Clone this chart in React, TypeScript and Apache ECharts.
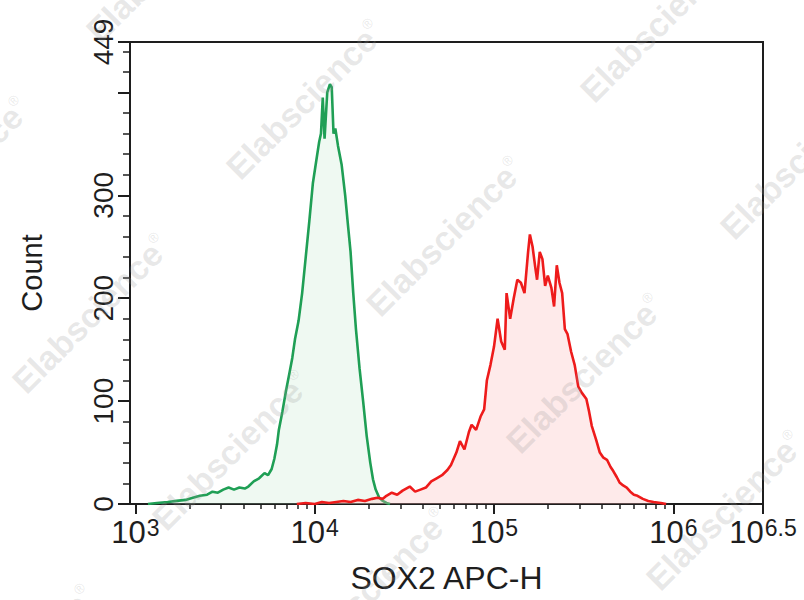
import React, { useEffect, useRef } from "react";
import * as echarts from "echarts";

// ---------- data (x = log10 fluorescence intensity, y = count) ----------
const GREEN_LOG = [
  3.07, 3.12, 3.18, 3.23, 3.28, 3.32, 3.36, 3.4, 3.43, 3.46, 3.49, 3.52, 3.55, 3.58, 3.61, 3.63,
  3.66, 3.69, 3.72, 3.74, 3.76, 3.775, 3.79, 3.8, 3.82, 3.84, 3.86, 3.875, 3.89, 3.91, 3.93, 3.95,
  3.97, 3.99, 4.01, 4.025, 4.035, 4.045, 4.055, 4.07, 4.085, 4.095, 4.105, 4.115, 4.13, 4.15, 4.17,
  4.185, 4.2, 4.215, 4.23, 4.25, 4.27, 4.29, 4.31, 4.325, 4.34, 4.36, 4.38, 4.4, 4.42,
];
const GREEN_COUNT = [
  0, 1, 2, 3, 4, 6, 8, 9, 12, 11, 14, 16, 14, 16, 15, 17,
  22, 25, 30, 28, 34, 44, 58, 72, 90, 110, 128, 142, 160, 178, 205, 240,
  275, 312, 335, 352, 360, 395, 355, 400, 408, 405, 360, 365, 348, 330, 300,
  272, 245, 205, 170, 132, 100, 66, 40, 24, 14, 6, 3, 1, 0,
];

const RED_LOG = [
  3.9, 3.95, 4.0, 4.04, 4.08, 4.12, 4.16, 4.2, 4.24, 4.28, 4.32, 4.35, 4.38, 4.4, 4.43, 4.46,
  4.49, 4.53, 4.56, 4.59, 4.62, 4.65, 4.68, 4.71, 4.74, 4.76, 4.79, 4.81, 4.835, 4.86, 4.875, 4.9,
  4.925, 4.945, 4.96, 4.98, 5.0, 5.02, 5.04, 5.06, 5.07, 5.09, 5.11, 5.13, 5.15, 5.17, 5.19, 5.2,
  5.215, 5.23, 5.24, 5.255, 5.27, 5.285, 5.3, 5.32, 5.335, 5.35, 5.365, 5.38, 5.395, 5.41, 5.43,
  5.45, 5.47, 5.49, 5.515, 5.53, 5.545, 5.57, 5.59, 5.61, 5.63, 5.65, 5.665, 5.685, 5.7, 5.72,
  5.74, 5.76, 5.78, 5.8, 5.83, 5.86, 5.89, 5.93, 5.96,
];
const RED_COUNT = [
  0, 1, 0, 2, 1, 2, 3, 2, 4, 3, 5, 6, 5, 8, 11, 9,
  13, 17, 12, 14, 16, 22, 25, 28, 33, 38, 50, 61, 53, 70, 77, 72,
  85, 92, 120, 135, 153, 180, 158, 150, 205, 180, 200, 218, 215, 205, 245, 262,
  250, 230, 218, 245, 238, 212, 222, 210, 192, 232, 215, 205, 170, 165, 148,
  135, 114, 108, 102, 90, 76, 62, 50, 45, 43, 36, 32, 26, 21, 18,
  16, 12, 9, 8, 5, 3, 2, 1, 0,
];

const X_MIN = 2.97;
const X_MAX = 6.5;
const X_MAJOR = [3, 4, 5, 6, 6.5];
const X_MINOR_VALUES = [
  2e3, 3e3, 4e3, 5e3, 6e3, 7e3, 8e3, 9e3,
  2e4, 3e4, 4e4, 5e4, 6e4, 7e4, 8e4, 9e4,
  2e5, 3e5, 4e5, 5e5, 6e5, 7e5, 8e5, 9e5,
];
const Y_MAX = 449;
const Y_HIDDEN_LABELS = [400];

const X_TITLE = "SOX2 APC-H";
const Y_TITLE = "Count";
const WATERMARK = "Elabscience";

const FONT = "'Liberation Sans', Arial, sans-serif";
const INK = "#1e1e1e";

function pairs(xs: number[], ys: number[]) {
  return xs.map((x, i) => [x, ys[i]]);
}

function watermarks() {
  const out: any[] = [];
  const p0 = [305, 100];
  const a = [140, 137];
  const b = [-214, 214];
  for (let i = -3; i <= 5; i++) {
    for (let j = -3; j <= 4; j++) {
      const x = p0[0] + i * a[0] + j * b[0];
      const y = p0[1] + i * a[1] + j * b[1];
      if (x < -120 || x > 930 || y < -120 || y > 720) continue;
      out.push({
        type: "text",
        x,
        y,
        rotation: Math.PI / 4,
        silent: true,
        z: 100,
        style: {
          text: `{a|${WATERMARK}}{r|®}`,
          align: "center",
          verticalAlign: "middle",
          rich: {
            a: { fontSize: 34, fontWeight: "bold", fontFamily: FONT, fill: "rgba(150,150,150,0.22)" },
            r: { fontSize: 14, fontFamily: FONT, fill: "rgba(150,150,150,0.22)", verticalAlign: "top", lineHeight: 20 },
          },
        },
      });
    }
  }
  return out;
}

export default function App() {
  const ref = useRef<HTMLDivElement>(null);
  useEffect(() => {
    const chart = echarts.init(ref.current!, null, { renderer: "svg" });
    const option: any = {
      animation: false,
      backgroundColor: "#ffffff",
      grid: {
        left: 130,
        right: 41,
        top: 42,
        bottom: 96,
        show: true,
        borderColor: INK,
        borderWidth: 2,
        backgroundColor: "transparent",
      },
      xAxis: [
        {
          type: "value",
          min: X_MIN,
          max: X_MAX,
          position: "bottom",
          axisLine: { show: true, lineStyle: { color: INK, width: 2 } },
          axisTick: { show: true, customValues: X_MAJOR, length: 10, lineStyle: { color: INK, width: 2 } },
          axisLabel: {
            customValues: X_MAJOR,
            margin: 12,
            formatter: (v: number) => {
              const e = Math.round(v * 10) / 10;
              return `{b|10}{s|${e}}`;
            },
            rich: {
              b: { fontSize: 31, fontFamily: FONT, color: INK, lineHeight: 32, verticalAlign: "bottom" },
              s: { fontSize: 23, fontFamily: FONT, color: INK, lineHeight: 22, verticalAlign: "top", padding: [0, 0, 0, 1] },
            },
          },
          splitLine: { show: false },
          name: X_TITLE,
          nameLocation: "middle",
          nameGap: 58,
          nameTextStyle: { fontSize: 32, fontFamily: FONT, color: INK },
        },
        {
          type: "value",
          min: X_MIN,
          max: X_MAX,
          position: "bottom",
          axisLine: { show: false },
          axisTick: { show: true, customValues: X_MINOR_VALUES.map((v) => Math.log10(v)), length: 5, lineStyle: { color: INK, width: 1.5 } },
          axisLabel: { show: false },
          splitLine: { show: false },
        },
      ],
      yAxis: [
        {
          type: "value",
          min: 0,
          max: Y_MAX,
          interval: 100,
          position: "left",
          axisLine: { show: true, lineStyle: { color: INK, width: 2 } },
          axisTick: { show: true, length: 12, lineStyle: { color: INK, width: 2 } },
          axisLabel: {
            rotate: 90,
            margin: 13,
            fontSize: 28,
            fontFamily: FONT,
            color: INK,
            formatter: (v: number) => (Y_HIDDEN_LABELS.includes(v) ? "" : String(v)),
          },
          splitLine: { show: false },
          name: Y_TITLE,
          nameLocation: "middle",
          nameGap: 84,
          nameTextStyle: { fontSize: 29, fontFamily: FONT, color: INK },
        },
        {
          type: "value",
          min: 0,
          max: Y_MAX,
          interval: 20,
          position: "left",
          axisLine: { show: false },
          axisTick: { show: true, length: 7, lineStyle: { color: INK, width: 1.5 } },
          axisLabel: { show: false },
          splitLine: { show: false },
        },
      ],
      series: [
        {
          type: "line",
          name: "Isotype",
          data: pairs(GREEN_LOG, GREEN_COUNT),
          xAxisIndex: 0,
          yAxisIndex: 0,
          symbol: "none",
          lineStyle: { color: "#1f9f55", width: 2.6 },
          itemStyle: { color: "#1f9f55" },
          areaStyle: { color: "rgba(180,225,195,0.3)" },
          z: 2,
        },
        {
          type: "line",
          name: "SOX2",
          data: pairs(RED_LOG, RED_COUNT),
          xAxisIndex: 0,
          yAxisIndex: 0,
          symbol: "none",
          lineStyle: { color: "#ee1b1b", width: 2.6 },
          itemStyle: { color: "#ee1b1b" },
          areaStyle: { color: "rgba(250,185,185,0.42)" },
          z: 3,
        },
      ],
      graphic: watermarks(),
    };
    chart.setOption(option);
    return () => chart.dispose();
  }, []);
  return <div ref={ref} style={{ position: "fixed", left: 0, top: 0, width: 804, height: 600 }} />;
}
